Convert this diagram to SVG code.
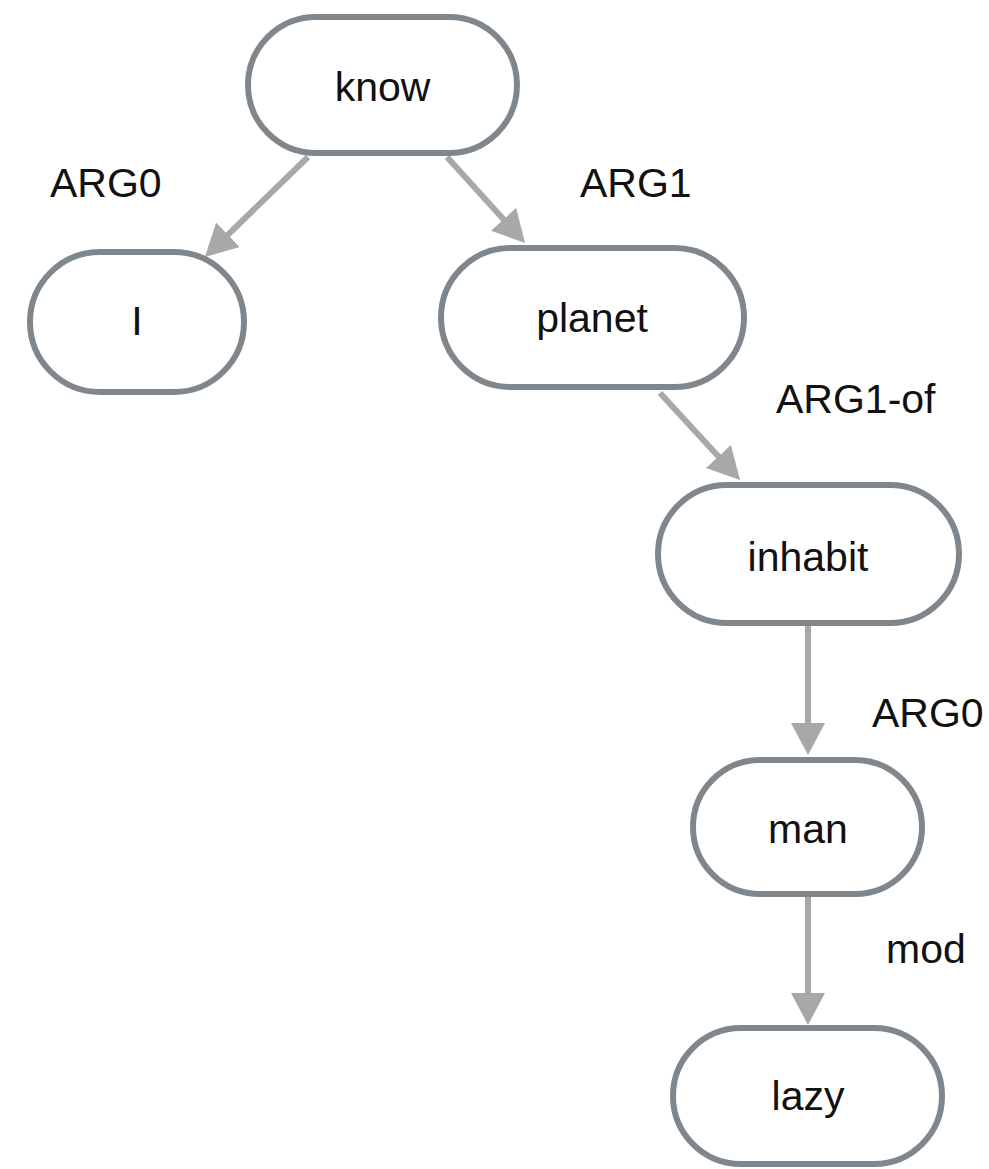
<svg xmlns="http://www.w3.org/2000/svg" width="989" height="1169" viewBox="0 0 989 1169">
<style>
.node rect{fill:#ffffff;stroke:#80878c;stroke-width:6}
.node text{font-family:"Liberation Sans",Arial,sans-serif;font-size:41px;fill:#111111;text-anchor:middle}
.edge{stroke:#a8a8a8;stroke-width:6;fill:none;marker-end:url(#arr)}
.lbl{font-family:"Liberation Sans",Arial,sans-serif;font-size:41px;fill:#111111}
</style>
<defs>
<marker id="arr" markerUnits="userSpaceOnUse" markerWidth="34" markerHeight="34" refX="12" refY="17" orient="auto">
<path d="M0,0 L32,17 L0,34 z" fill="#a8a8a8"/>
</marker>
</defs>
<rect width="989" height="1169" fill="#ffffff"/>
<g id="connectors">
<path class="edge" d="M308,157 L219.3,243.1"/>
<path class="edge" d="M447,157 L511.6,228.2"/>
<path class="edge" d="M660,393 L726.5,465.3"/>
<path class="edge" d="M808,626 L808,735"/>
<path class="edge" d="M808,897 L808,1005"/>
<text class="lbl" x="50" y="197">ARG0</text>
<text class="lbl" x="580" y="197">ARG1</text>
<text class="lbl" x="776" y="413">ARG1-of</text>
<text class="lbl" x="872" y="727">ARG0</text>
<text class="lbl" x="886" y="963">mod</text>
</g>
<g id="node-know" class="node"><rect x="248" y="17" width="269" height="136" rx="68"/><text x="382.5" y="101">know</text></g>
<g id="node-I" class="node"><rect x="30" y="252" width="214" height="140" rx="70"/><text x="137" y="335">I</text></g>
<g id="node-planet" class="node"><rect x="441" y="248" width="303" height="139" rx="69.5"/><text x="592" y="332">planet</text></g>
<g id="node-inhabit" class="node"><rect x="658" y="485" width="301" height="138" rx="69"/><text x="808" y="571">inhabit</text></g>
<g id="node-man" class="node"><rect x="693" y="760" width="229" height="134" rx="67"/><text x="808" y="843">man</text></g>
<g id="node-lazy" class="node"><rect x="673" y="1028" width="269" height="136" rx="68"/><text x="808" y="1110">lazy</text></g>
</svg>
